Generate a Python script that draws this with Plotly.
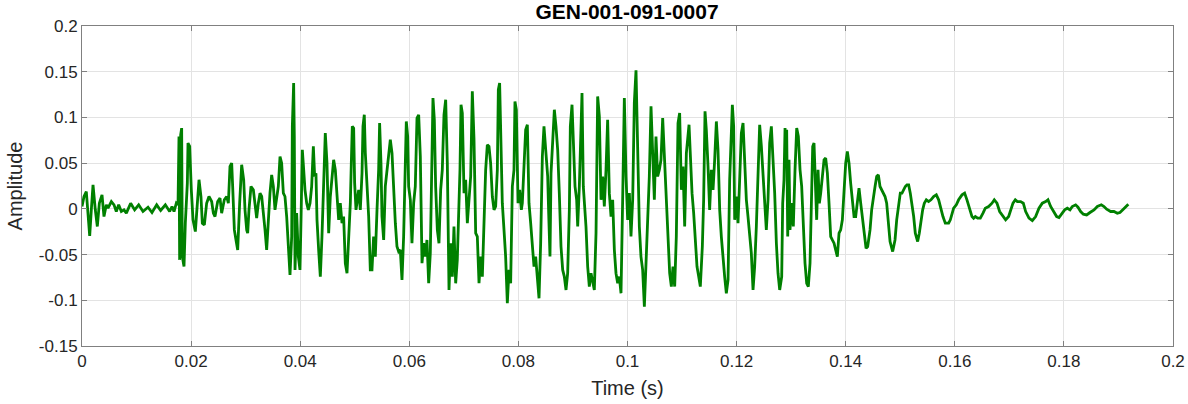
import plotly.graph_objects as go

# time in milliseconds, amplitude in signal units
time_ms = [
0.00,0.37,0.79,1.10,1.41,1.71,2.02,2.44,2.81,3.18,3.67,4.03,4.46,4.77,5.38,5.87,6.29,6.72,7.21,7.70,
8.13,8.92,9.65,10.39,11.18,12.10,12.83,13.69,14.42,15.28,16.07,16.50,16.87,17.29,17.60,17.78,17.90,18.09,18.27,18.39,
18.70,18.94,19.31,19.43,19.74,20.04,20.35,20.78,
21.45,21.81,22.06,22.43,22.85,23.28,23.77,24.08,24.38,24.87,25.30,25.60,26.09,26.52,26.83,27.13,27.44,27.62,27.93,28.23,
28.54,28.90,29.27,29.64,29.88,30.19,30.37,30.61,30.98,31.41,31.71,32.02,32.33,32.63,32.94,33.24,33.55,33.85,34.16,34.46,
34.77,35.08,35.38,35.69,35.99,36.30,36.60,36.91,37.21,37.52,37.83,38.13,38.44,38.56,38.80,38.92,39.05,39.35,39.66,39.96,
40.15,40.39,40.64,40.88,41.19,41.49,41.80,42.10,
42.41,42.65,42.89,43.08,43.38,43.69,43.99,44.30,44.60,44.91,45.09,45.22,45.52,45.83,46.13,46.44,46.74,47.05,47.35,47.66,
47.96,48.27,48.58,48.88,49.19,49.37,49.55,49.80,49.98,50.23,50.47,50.72,51.02,51.33,51.51,51.75,51.94,52.24,52.55,52.85,
53.16,53.46,53.77,54.08,54.38,54.56,54.81,54.99,55.30,55.60,55.91,56.21,56.52,56.83,57.13,57.44,57.74,58.05,58.35,58.66,
58.96,59.27,59.45,59.70,59.88,60.19,60.49,60.80,61.10,61.41,61.72,62.02,62.33,62.63,62.94,63.24,63.55,63.85,
64.10,64.34,64.59,64.83,65.14,65.44,65.75,66.05,66.36,66.67,66.97,67.28,67.58,67.89,68.19,68.50,68.80,69.11,69.29,69.48,
69.72,70.03,70.33,70.64,70.94,71.25,71.55,71.86,72.17,72.47,72.78,73.08,73.39,73.69,74.00,74.30,74.61,74.91,75.22,75.53,
75.83,76.14,76.32,76.56,76.75,77.05,77.36,77.66,77.97,78.28,78.58,78.89,79.19,79.37,79.62,79.93,80.23,80.54,80.72,81.03,
81.33,81.64,81.94,82.25,82.55,82.86,83.16,83.47,83.78,84.08,84.39,84.69,
85.37,85.55,85.79,85.98,86.28,86.59,86.89,87.20,87.50,87.81,88.12,88.42,88.73,89.03,89.34,89.52,89.83,90.07,90.38,90.68,
90.87,91.17,91.48,91.66,91.90,92.39,92.70,93.00,93.31,93.61,93.92,94.23,94.53,94.84,95.14,95.45,95.75,96.06,96.36,96.67,
96.98,97.28,97.59,97.89,98.20,98.50,98.81,99.11,99.42,99.73,100.03,100.34,100.64,100.95,101.25,101.56,101.86,102.17,102.47,102.78,
103.09,103.39,103.70,104.00,104.31,104.61,104.92,105.22,105.53,105.84,106.14,106.45,
106.81,107.12,107.43,107.73,108.04,108.34,108.65,108.95,109.26,109.56,109.87,110.18,110.48,110.79,111.28,111.52,111.83,112.13,112.44,112.74,
113.05,113.35,113.72,113.96,114.21,114.45,114.76,115.06,115.37,115.68,115.98,116.29,116.59,116.90,117.20,117.51,117.81,118.12,118.43,118.73,
119.04,119.22,119.46,119.65,119.95,120.26,120.56,120.87,121.18,121.48,121.79,122.09,122.40,122.70,123.01,123.31,123.62,123.93,124.23,124.54,
124.84,125.15,125.45,125.76,126.06,126.37,126.68,126.98,127.29,127.59,127.90,
128.27,128.45,128.69,128.88,129.06,129.18,129.37,129.61,129.79,130.10,130.40,130.71,131.02,131.32,131.63,131.93,132.24,132.54,132.85,133.15,
133.46,133.77,133.95,134.19,134.44,134.68,134.93,135.17,135.42,135.72,136.03,136.33,136.64,136.94,137.25,137.55,137.86,138.16,138.47,138.78,
139.08,139.39,139.69,140.00,140.30,140.61,140.91,141.22,141.53,141.83,142.14,142.44,142.75,143.05,143.36,143.73,144.03,144.46,144.76,145.07,
145.38,145.68,145.99,146.29,146.90,147.21,147.51,147.82,148.13,148.61,149.04,149.35,
149.71,150.01,150.32,150.62,150.93,151.23,151.54,151.84,152.15,152.46,152.76,153.19,153.49,153.80,154.11,154.41,154.78,155.20,155.63,156.12,
156.61,157.04,157.34,157.83,158.26,158.57,158.87,159.18,159.48,159.79,160.28,160.70,161.32,161.80,162.23,162.72,163.15,163.45,163.76,164.19,
164.68,165.17,165.59,166.20,166.82,167.24,167.73,168.22,168.83,169.32,169.87,170.30,170.67,171.09,
171.46,172.07,172.56,172.99,173.60,174.21,174.82,175.43,176.04,176.66,177.08,177.57,178.06,178.67,179.10,179.71,180.14,180.63,181.12,181.54,
182.15,182.58,183.07,183.56,184.17,184.78,185.52,186.13,186.86,187.35,187.84,188.57,189.18,189.79,190.28,190.89,191.44,191.81,
]

amplitude = [
0.0026,0.0135,0.0190,-0.0010,-0.0296,-0.0010,0.0263,-0.0010,-0.0193,0.0062,0.0153,-0.0084,0.0044,0.0007,0.0080,0.0044,-0.0029,0.0044,-0.0029,-0.0011,
-0.0047,0.0062,-0.0011,0.0044,-0.0029,0.0018,-0.0040,0.0044,-0.0018,0.0044,-0.0029,0.0026,-0.0029,0.0062,0.0044,0.0792,-0.0558,0.0810,0.0883,-0.0522,
-0.0631,-0.0157,0.0281,0.0719,0.0683,0.0208,-0.0120,-0.0248,
0.0318,0.0135,-0.0157,-0.0175,0.0062,0.0135,0.0080,-0.0047,-0.0084,0.0080,0.0117,-0.0047,0.0099,0.0135,0.0062,0.0464,0.0500,0.0245,-0.0230,-0.0340,
-0.0449,0.0062,0.0482,0.0318,-0.0011,-0.0230,-0.0266,-0.0011,0.0245,0.0208,0.0026,-0.0102,0.0062,0.0172,0.0135,-0.0011,-0.0230,-0.0449,-0.0120,0.0172,
0.0372,0.0245,-0.0011,0.0135,0.0245,0.0573,0.0500,0.0172,0.0135,-0.0084,-0.0449,-0.0723,-0.0303,0.0902,0.1376,0.0792,-0.0668,-0.0047,-0.0522,-0.0668,
-0.0120,0.0646,0.0427,0.0208,0.0062,-0.0011,0.0062,0.0245,
0.0683,0.0354,0.0390,-0.0120,-0.0449,-0.0741,-0.0303,0.0354,0.0829,0.0500,0.0062,-0.0266,0.0135,0.0390,0.0537,0.0427,0.0135,-0.0120,0.0062,-0.0157,
-0.0084,-0.0595,-0.0704,-0.0376,0.0062,0.0500,0.0902,0.0883,0.0281,-0.0011,0.0135,0.0208,-0.0011,0.0390,0.0902,0.1029,0.0610,0.0318,-0.0084,-0.0668,
-0.0668,-0.0303,-0.0522,-0.0011,0.0427,0.0938,0.0500,-0.0084,-0.0340,0.0245,0.0427,0.0573,0.0756,0.0610,0.0172,-0.0157,-0.0412,-0.0467,-0.0449,-0.0777,
-0.0303,0.0427,0.0956,0.0792,0.0245,0.0099,-0.0376,0.0062,0.0245,0.0993,0.1029,0.0573,-0.0595,-0.0376,-0.0522,-0.0340,-0.0814,-0.0485,
0.0464,0.1212,0.0975,0.0245,-0.0230,-0.0376,0.0208,0.0427,0.1029,0.1194,0.0500,-0.0887,-0.0376,-0.0741,-0.0193,-0.0814,-0.0558,0.0062,0.0427,0.1139,
0.1048,0.0172,0.0318,-0.0157,0.0062,0.0354,0.1285,0.0763,-0.0266,-0.0303,-0.0814,-0.0522,-0.0741,-0.0011,0.0427,0.0701,0.0683,0.0500,0.0135,-0.0011,
0.0026,0.0427,0.1303,0.1376,0.0975,0.0062,-0.0230,-0.0522,-0.1033,-0.0668,-0.0814,0.0245,0.0427,0.1175,0.1084,0.0062,0.0208,-0.0011,0.0062,0.0427,
0.0865,0.0920,0.0062,-0.0157,-0.0376,-0.0631,-0.0522,-0.0741,-0.0978,-0.0376,0.0573,0.0902,
0.0354,-0.0047,-0.0522,0.0390,0.0719,0.1084,0.0902,0.0646,0.0172,-0.0412,-0.0668,-0.0741,-0.0887,-0.0704,-0.0011,0.0902,0.1139,0.0646,0.0245,0.0099,
-0.0193,0.0245,0.1048,0.1267,0.0245,-0.0193,-0.0631,-0.0850,-0.0704,-0.0777,-0.0887,-0.0266,0.1230,0.1011,0.0099,0.0354,0.0026,0.0427,0.0975,0.0172,
-0.0084,0.0099,-0.0449,-0.0704,-0.0814,-0.0741,-0.0923,0.0099,0.1212,0.0354,-0.0120,0.0172,-0.0303,0.0099,0.1157,0.1515,0.0537,-0.0193,-0.0522,-0.0668,
-0.1069,-0.0631,-0.0266,0.0354,0.1121,0.0646,0.0099,0.0792,0.0354,0.0427,0.0537,0.0993,
0.0500,0.0099,-0.0412,-0.0704,-0.0850,-0.0631,-0.0850,-0.0303,0.0938,0.1048,0.0208,0.0464,-0.0193,0.0610,0.0920,0.0537,0.0172,-0.0047,-0.0339,-0.0631,
-0.0741,-0.0850,-0.0412,0.0099,0.1066,0.0865,0.0464,-0.0011,0.0427,0.0208,0.0537,0.0956,0.0646,-0.0011,-0.0303,-0.0558,-0.0741,-0.0923,-0.0777,0.0318,
0.0829,0.1139,0.0902,-0.0120,0.0135,-0.0157,0.0318,0.0829,0.0938,0.0537,0.0099,-0.0084,-0.0266,-0.0485,-0.0887,-0.0631,-0.0193,0.0537,0.0920,0.0683,
0.0354,0.0026,-0.0230,0.0099,0.0719,0.0902,0.0573,0.0172,-0.0376,-0.0704,-0.0887,
-0.0741,0.0062,0.0318,0.0883,0.0610,0.0865,-0.0303,0.0537,-0.0230,0.0062,-0.0193,0.0427,0.0883,0.0792,0.0427,0.0245,-0.0230,-0.0595,-0.0814,-0.0850,
-0.0595,0.0135,0.0683,0.0719,0.0135,-0.0120,0.0427,0.0062,0.0172,0.0318,0.0537,0.0555,0.0391,0.0062,-0.0303,-0.0340,-0.0376,-0.0449,-0.0522,-0.0266,
-0.0230,-0.0120,0.0172,0.0500,0.0628,0.0500,0.0281,0.0062,-0.0084,-0.0084,0.0062,0.0226,0.0062,-0.0084,-0.0266,-0.0431,-0.0412,-0.0230,-0.0011,0.0135,
0.0245,0.0354,0.0372,0.0245,0.0172,0.0135,0.0062,-0.0193,-0.0358,-0.0467,-0.0340,-0.0120,
0.0062,0.0172,0.0172,0.0208,0.0245,0.0263,0.0263,0.0172,0.0062,-0.0084,-0.0266,-0.0358,-0.0266,-0.0120,-0.0011,0.0062,0.0099,0.0080,0.0099,0.0135,
0.0153,0.0099,0.0026,-0.0084,-0.0157,-0.0157,-0.0157,-0.0120,-0.0047,0.0007,0.0044,0.0099,0.0153,0.0172,0.0099,-0.0011,-0.0084,-0.0102,-0.0084,-0.0102,
-0.0102,-0.0047,0.0007,0.0026,0.0062,0.0099,0.0062,-0.0029,-0.0084,-0.0120,-0.0084,-0.0011,0.0062,0.0099,
0.0080,0.0080,0.0062,-0.0029,-0.0102,-0.0128,-0.0084,0.0007,0.0062,0.0080,0.0099,0.0026,-0.0029,-0.0084,-0.0095,-0.0047,-0.0011,0.0007,-0.0011,0.0026,
0.0044,0.0018,-0.0029,-0.0058,-0.0066,-0.0040,-0.0011,0.0026,0.0044,0.0026,-0.0004,-0.0029,-0.0029,-0.0047,-0.0040,-0.0004,0.0033,0.0051,
]

time_s = [t / 1000.0 for t in time_ms]

x_ticks = [0, 0.02, 0.04, 0.06, 0.08, 0.1, 0.12, 0.14, 0.16, 0.18, 0.2]
x_tick_text = ["0", "0.02", "0.04", "0.06", "0.08", "0.1", "0.12", "0.14", "0.16", "0.18", "0.2"]
y_ticks = [-0.15, -0.1, -0.05, 0, 0.05, 0.1, 0.15, 0.2]
y_tick_text = ["-0.15", "-0.1", "-0.05", "0", "0.05", "0.1", "0.15", "0.2"]

title_text = "GEN-001-091-0007"
x_title = "Time (s)"
y_title = "Amplitude"

FONT = "Liberation Sans, Arial, sans-serif"
TXT = "#262626"
AXC = "#808080"
GRID = "#e3e3e3"

fig = go.Figure()
fig.add_trace(go.Scatter(
    x=time_s, y=amplitude, mode="lines",
    line=dict(color="#008000", width=2.8),
    hoverinfo="x+y", showlegend=False,
))

axis_common = dict(
    showline=True, linecolor=AXC, linewidth=1, mirror="ticks",
    ticks="inside", ticklen=5, tickcolor=AXC, tickwidth=1,
    showgrid=True, gridcolor=GRID, gridwidth=1,
    zeroline=False,
    tickfont=dict(family=FONT, size=17, color=TXT),
)

fig.update_layout(
    width=1188, height=404,
    margin=dict(l=82, r=15, t=26, b=58, autoexpand=False),
    paper_bgcolor="white", plot_bgcolor="white",
    title=dict(text="<b>" + title_text + "</b>", x=0.5278, xanchor="center",
               y=0.972, yanchor="middle",
               font=dict(family=FONT, size=21, color="#000000")),
    xaxis=dict(range=[0, 0.2], tickvals=x_ticks, ticktext=x_tick_text,
               title=dict(text=x_title, font=dict(family=FONT, size=20, color=TXT), standoff=10),
               automargin=False, **axis_common),
    yaxis=dict(range=[-0.15, 0.2], tickvals=y_ticks, ticktext=y_tick_text,
               title=dict(text=y_title, font=dict(family=FONT, size=20, color=TXT), standoff=10),
               automargin=False, **axis_common),
)

fig.write_html("out.html", config={"displayModeBar": False},
               post_script="document.body.style.margin='0';")
